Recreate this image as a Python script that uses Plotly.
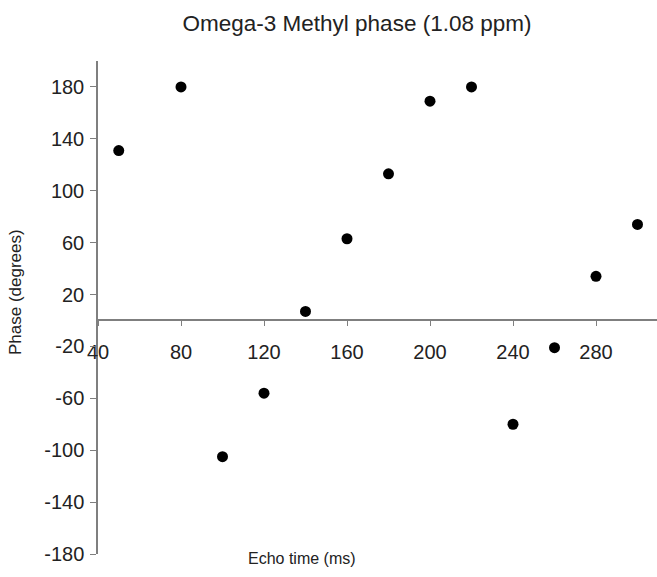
import plotly.graph_objects as go

echo_time = [50, 80, 100, 120, 140, 160, 180, 200, 220, 240, 260, 280, 300]
phase = [131, 180, -105, -56, 7, 63, 113, 169, 180, -80, -21, 34, 74]
y_ticks = [-180, -140, -100, -60, -20, 20, 60, 100, 140, 180]
x_ticks = [40, 80, 120, 160, 200, 240, 280]

W, H = 657, 577
L, R, T, B = 98, 0, 61, 23
y_range = [-180, 200]
x_range = [40, 309.4]

fig = go.Figure()
fig.add_trace(go.Scatter(
    x=echo_time, y=phase, mode="markers",
    marker=dict(color="black", size=11, line=dict(width=0)),
    showlegend=False,
))

font = "Liberation Sans, Arial, sans-serif"
axis_col = "#7f7f7f"
zero_frac = (0 - y_range[0]) / (y_range[1] - y_range[0])

fig.update_layout(
    width=W, height=H,
    margin=dict(l=L, r=R, t=T, b=B, pad=0),
    paper_bgcolor="white", plot_bgcolor="white",
    font=dict(family=font, color="#222222"),
    title=dict(text="Omega-3 Methyl phase (1.08 ppm)", x=357 / W, xanchor="center",
               y=1 - 23 / H, yanchor="middle", yref="container",
               font=dict(size=22.5, family=font, color="#222222")),
    xaxis=dict(
        range=x_range, tickmode="array", tickvals=x_ticks, ticktext=[str(v) for v in x_ticks],
        showgrid=False, zeroline=False, showline=True, linecolor=axis_col, linewidth=1.5,
        ticks="outside", ticklen=5, tickcolor=axis_col, tickwidth=1,
        anchor="free", position=zero_frac, ticklabelstandoff=9,
        tickfont=dict(size=20, family=font, color="#222222"),
    ),
    yaxis=dict(
        range=y_range, tickmode="array", tickvals=y_ticks, ticktext=[str(v) for v in y_ticks],
        showgrid=False, zeroline=False, showline=True, linecolor=axis_col, linewidth=1.5,
        ticks="outside", ticklen=6, tickcolor=axis_col, tickwidth=1,
        ticklabelstandoff=2,
        tickfont=dict(size=20, family=font, color="#222222"),
    ),
    annotations=[
        dict(text="Echo time (ms)", xref="paper", yref="paper",
             x=(301.7 - L) / (W - L - R), y=(H - B - 558) / (H - T - B),
             xanchor="center", yanchor="middle", showarrow=False,
             font=dict(size=16, family=font, color="#222222")),
        dict(text="Phase (degrees)", xref="paper", yref="paper", textangle=-90,
             x=(15 - L) / (W - L - R), y=(H - B - 292) / (H - T - B),
             xanchor="center", yanchor="middle", showarrow=False,
             font=dict(size=17, family=font, color="#222222")),
    ],
)

fig.write_html("out.html")
